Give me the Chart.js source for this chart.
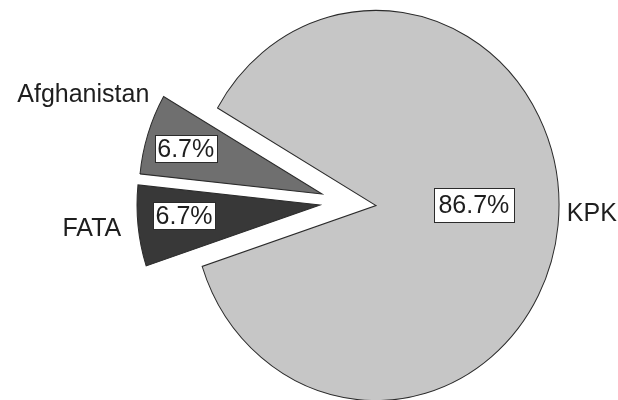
<!DOCTYPE html>
<html>
<head>
<meta charset="utf-8">
<script src="https://cdn.jsdelivr.net/npm/chart.js@4/dist/chart.umd.min.js"></script>
<style>
  html, body { margin: 0; padding: 0; background: #fff; }
  canvas { display: block; }
</style>
</head>
<body>
<canvas id="c" width="618" height="400"></canvas>
<script>
// Origin of cases (%)
const categories = ['KPK', 'FATA', 'Afghanistan'];
const shares = [86.7, 6.7, 6.7];
const valueLabels = shares.map(v => v.toFixed(1) + '%');

const sliceColors = ['#c6c6c6', '#383838', '#6f6f6f'];
const outlineColor = '#2b2b2b';
const textColor = '#1e1e1e';
const labelFont = '25px "Liberation Sans", Arial, Helvetica, sans-serif';

// the pie is drawn slightly taller than wide
const VERTICAL_STRETCH = 1.066;

// pulled-out slices: distance (px) and direction (deg, clockwise from east)
const pullOut = [null, { dist: 56, angle: 180.5 }, { dist: 55, angle: 191.3 }];

// boxed value labels: position along the slice span and along the radius
const innerLabelPos = [
  { along: 0.481, radius: 0.535, padX: 4.5, boxH: 34 },
  { along: 0.58,  radius: 0.745, padX: 2.5, boxH: 27 },
  { along: 0.47,  radius: 0.78,  padX: 2.5, boxH: 27 }
];
// category names outside the pie
const outerLabelPos = [
  { along: 0.4885, gap: 8 },
  { along: 0.49,   gap: 17 },
  { along: 0.925,  gap: 13 }
];

function centerY(chart) {
  const a = chart.chartArea;
  return (a.top + a.bottom) / 2;
}

const pieExtras = {
  id: 'pieExtras',
  afterDatasetsUpdate(chart) {
    chart.getDatasetMeta(0).data.forEach((arc, i) => {
      const p = pullOut[i];
      if (!p) return;
      const a = p.angle * Math.PI / 180;
      arc.x += Math.cos(a) * p.dist;
      arc.y += Math.sin(a) * p.dist;
    });
  },
  beforeDatasetsDraw(chart) {
    const ctx = chart.ctx;
    const cy = centerY(chart);
    ctx.save();
    ctx.translate(0, cy);
    ctx.scale(1, VERTICAL_STRETCH);
    ctx.translate(0, -cy);
  },
  afterDatasetsDraw(chart) {
    const ctx = chart.ctx;
    ctx.restore();
    const cy = centerY(chart);
    const toScreen = (x, y) => [x, cy + (y - cy) * VERTICAL_STRETCH];

    ctx.save();
    ctx.font = labelFont;
    ctx.textBaseline = 'middle';
    chart.getDatasetMeta(0).data.forEach((arc, i) => {
      const span = arc.endAngle - arc.startAngle;

      // boxed value label
      const ip = innerLabelPos[i];
      const ia = arc.startAngle + span * ip.along;
      const [lx, ly] = toScreen(arc.x + Math.cos(ia) * arc.outerRadius * ip.radius,
                                arc.y + Math.sin(ia) * arc.outerRadius * ip.radius);
      const txt = valueLabels[i];
      const w = ctx.measureText(txt).width + ip.padX * 2;
      const h = ip.boxH;
      const bx = Math.round(lx - w / 2) + 0.5;
      const by = Math.round(ly - h / 2) + 0.5;
      ctx.fillStyle = '#ffffff';
      ctx.fillRect(bx, by, Math.round(w), h);
      ctx.strokeStyle = outlineColor;
      ctx.lineWidth = 1;
      ctx.strokeRect(bx, by, Math.round(w), h);
      ctx.fillStyle = textColor;
      ctx.textAlign = 'center';
      ctx.fillText(txt, lx, ly + 1);

      // category name
      const op = outerLabelPos[i];
      const oa = arc.startAngle + span * op.along;
      const r = arc.outerRadius + op.gap;
      const [ox, oy] = toScreen(arc.x + Math.cos(oa) * r, arc.y + Math.sin(oa) * r);
      ctx.textAlign = Math.cos(oa) < 0 ? 'right' : 'left';
      ctx.fillText(categories[i], ox, oy);
    });
    ctx.restore();
  }
};

new Chart(document.getElementById('c'), {
  type: 'pie',
  data: {
    labels: categories,
    datasets: [{
      data: shares,
      backgroundColor: sliceColors,
      borderColor: outlineColor,
      borderWidth: 1,
      borderJoinStyle: 'miter'
    }]
  },
  options: {
    responsive: false,
    animation: false,
    events: [],
    rotation: 300,
    radius: 183,
    layout: { padding: { left: 134, right: 0, top: 11, bottom: 0 } },
    plugins: {
      legend: { display: false },
      tooltip: { enabled: false }
    }
  },
  plugins: [pieExtras]
});
</script>
</body>
</html>
